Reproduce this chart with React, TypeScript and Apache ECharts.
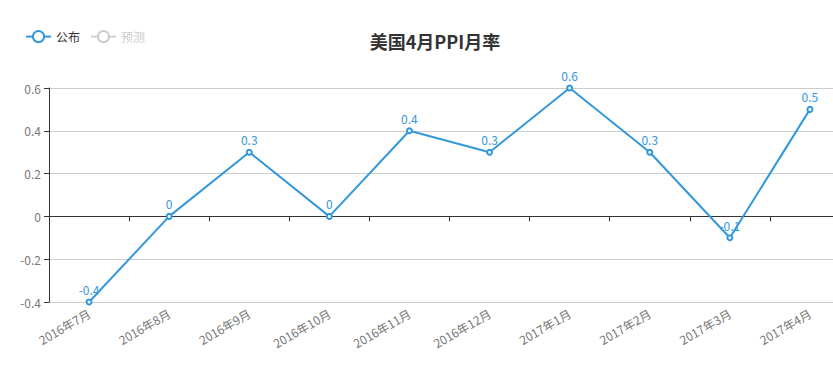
import React, { useEffect, useRef } from "react";
import * as echarts from "echarts";

const categories = ["2016年7月", "2016年8月", "2016年9月", "2016年10月", "2016年11月", "2016年12月", "2017年1月", "2017年2月", "2017年3月", "2017年4月"];
const publishedValues = [-0.4, 0, 0.3, 0, 0.4, 0.3, 0.6, 0.3, -0.1, 0.5];
const forecastValues: number[] = [];
const yTicks = { min: -0.4, max: 0.6, interval: 0.2 };

const FONT = "'Noto Sans CJK SC', 'Noto Sans', sans-serif";
const BLUE = "#3398DB";

export default function App() {
  const ref = useRef<HTMLDivElement>(null);
  useEffect(() => {
    if (!ref.current) return;
    const chart = echarts.init(ref.current, null, { renderer: "svg" });
    chart.setOption({
      animation: false,
      textStyle: { fontFamily: FONT },
      color: [BLUE, "#c23531"],
      title: {
        text: "美国4月PPI月率",
        left: "center",
        top: 27,
        textStyle: { fontSize: 18, fontWeight: "bold", color: "#333", fontFamily: FONT },
      },
      legend: {
        left: 20,
        top: 25,
        itemWidth: 25,
        itemHeight: 14,
        itemGap: 10,
        inactiveColor: "#ccc",
        textStyle: { fontSize: 12, color: "#333", fontFamily: FONT },
        data: ["公布", "预测"],
        selected: { "公布": true, "预测": false },
      },
      grid: { left: 49, right: 20, top: 88, bottom: 78 },
      xAxis: [
        {
          type: "category",
          data: categories,
          boundaryGap: true,
          axisLine: { onZero: true, lineStyle: { color: "#333", width: 1 } },
          axisTick: { show: true, length: 5, interval: 0, lineStyle: { color: "#333" } },
          axisLabel: { show: false, interval: 0 },
          splitLine: { show: false },
        },
        {
          type: "category",
          data: categories,
          boundaryGap: true,
          position: "bottom",
          axisLine: { show: false, onZero: false },
          axisTick: { show: false },
          axisLabel: { show: true, rotate: 30, margin: 10, color: "#777", fontSize: 12, fontFamily: FONT, interval: 0 },
          splitLine: { show: false },
        },
      ],
      yAxis: {
        type: "value",
        min: yTicks.min,
        max: yTicks.max,
        interval: yTicks.interval,
        axisLine: { show: true, lineStyle: { color: "#333" } },
        axisTick: { show: true, length: 5, lineStyle: { color: "#333" } },
        axisLabel: { color: "#777", fontSize: 12, fontFamily: FONT, margin: 8 },
        splitLine: { show: true, lineStyle: { color: "#ccc" } },
      },
      series: [
        {
          name: "公布",
          type: "line",
          xAxisIndex: 0,
          data: publishedValues,
          symbol: "emptyCircle",
          symbolSize: 5,
          lineStyle: { width: 2, color: BLUE },
          itemStyle: { color: BLUE, borderWidth: 1.5 },
          label: { show: true, position: "top", color: BLUE, fontSize: 12, fontFamily: FONT, distance: 3 },
        },
        {
          name: "预测",
          type: "line",
          xAxisIndex: 0,
          data: forecastValues,
          symbol: "emptyCircle",
          symbolSize: 5,
          lineStyle: { width: 2 },
        },
      ],
    });
    return () => chart.dispose();
  }, []);
  return (
    <div style={{ position: "fixed", left: 0, top: 0, width: 833, height: 380, overflow: "hidden", background: "#fff" }}>
      <div ref={ref} style={{ width: 870, height: 380 }} />
    </div>
  );
}
